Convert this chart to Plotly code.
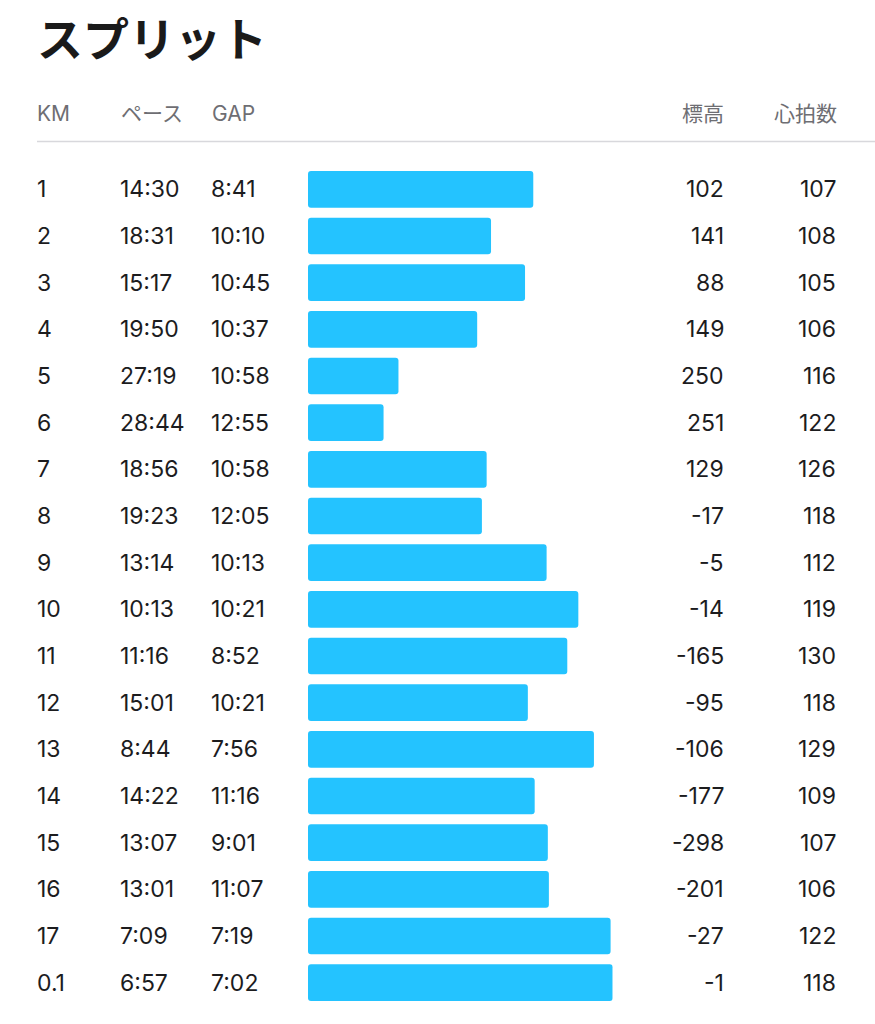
import plotly.graph_objects as go

# ---- data ----
km_labels = ["1", "2", "3", "4", "5", "6", "7", "8", "9", "10", "11", "12",
             "13", "14", "15", "16", "17", "0.1"]
pace = ["14:30", "18:31", "15:17", "19:50", "27:19", "28:44", "18:56", "19:23",
        "13:14", "10:13", "11:16", "15:01", "8:44", "14:22", "13:07", "13:01",
        "7:09", "6:57"]
gap = ["8:41", "10:10", "10:45", "10:37", "10:58", "12:55", "10:58", "12:05",
       "10:13", "10:21", "8:52", "10:21", "7:56", "11:16", "9:01", "11:07",
       "7:19", "7:02"]
elevation = [102, 141, 88, 149, 250, 251, 129, -17, -5, -14, -165, -95, -106,
             -177, -298, -201, -27, -1]
heart_rate = [107, 108, 105, 106, 116, 122, 126, 118, 112, 119, 130, 118, 129,
              109, 107, 106, 122, 118]
headers = ["KM", "ペース", "GAP", "標高", "心拍数"]
title_text = "スプリット"


def to_sec(s):
    m, sec = s.split(":")
    return int(m) * 60 + int(sec)


pace_s = [to_sec(p) for p in pace]
t_ref = 1.25 * max(pace_s)          # slow reference pace at the bar baseline

W, H = 875, 1024
FONT = "Inter, Noto Sans CJK JP, sans-serif"
TXT = "#1c1c1e"
HDR = "#6e6e73"
BAR = "#24C3FF"


def px(x):
    return x / W


def py(y):
    return 1 - y / H


fig = go.Figure()
fig.add_trace(go.Bar(
    y=km_labels,
    x=[p - t_ref for p in pace_s],
    base=t_ref,
    orientation="h",
    marker=dict(color=BAR, line=dict(width=0), cornerradius=3),
    hoverinfo="skip",
))

ann = []
# title
ann.append(dict(text="<b>" + title_text + "</b>", xref="paper", yref="paper",
                x=px(35), y=py(36), xanchor="left", yanchor="middle",
                showarrow=False, font=dict(family="Noto Sans CJK JP", size=46, color="#1a1a1a")))
# headers
hdr_pos = [(35, "left"), (119, "left"), (210, "left"), (726, "right"), (839, "right")]
for h, (x, anc) in zip(headers, hdr_pos):
    ann.append(dict(text=h, xref="paper", yref="paper", x=px(x), y=py(113),
                    xanchor=anc, yanchor="middle", showarrow=False,
                    font=dict(family=FONT, size=21, color=HDR)))

cols = [
    (km_labels, 35, "left"),
    (pace, 118, "left"),
    (gap, 209, "left"),
    ([str(v) for v in elevation], 726, "right"),
    ([str(v) for v in heart_rate], 838, "right"),
]
for values, x, anc in cols:
    for i, v in enumerate(values):
        ann.append(dict(text=v, xref="paper", yref="y", x=px(x), y=i,
                        xanchor=anc, yanchor="middle", showarrow=False,
                        font=dict(family=FONT, size=23, color=TXT)))

fig.update_layout(
    width=W, height=H,
    margin=dict(l=0, r=0, t=0, b=0),
    paper_bgcolor="white", plot_bgcolor="white",
    showlegend=False,
    bargap=0.214,
    annotations=ann,
    shapes=[dict(type="line", xref="paper", yref="paper",
                 x0=px(37), x1=1, y0=py(141.5), y1=py(141.5),
                 line=dict(color="#d8d8dc", width=1.5))],
    xaxis=dict(domain=[px(308), px(612.7)], range=[t_ref, min(pace_s)],
               visible=False, fixedrange=True),
    yaxis=dict(type="category", categoryorder="array", categoryarray=km_labels,
               domain=[py(1006), py(166)],
               range=[len(km_labels) - 0.5, -0.5], visible=False, fixedrange=True),
)

fig.write_html("out.html", config={"displayModeBar": False},
               post_script="document.body.style.margin='0';")
